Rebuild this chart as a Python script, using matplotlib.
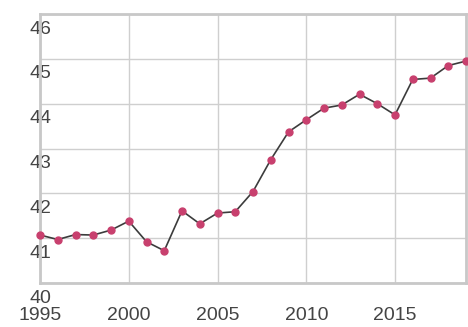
import matplotlib
matplotlib.use("Agg")
import matplotlib.pyplot as plt
import matplotlib.transforms as mtransforms

years = list(range(1995, 2020))
values = [41.07, 40.97, 41.08, 41.07, 41.18, 41.38, 40.92, 40.72, 41.61, 41.32,
          41.56, 41.59, 42.04, 42.75, 43.37, 43.64, 43.90, 43.97, 44.21, 44.00,
          43.75, 44.54, 44.57, 44.85, 44.95]
x_ticks = [1995, 2000, 2005, 2010, 2015]
y_ticks = [40, 41, 42, 43, 44, 45, 46]

plt.rcParams['font.family'] = ['Liberation Sans', 'DejaVu Sans']

W, H = 468, 327
fig = plt.figure(figsize=(W / 100, H / 100), dpi=100)
ax = fig.add_axes([40 / W, (H - 283) / H, (466 - 40) / W, (283 - 14) / H])

ax.plot(years, values, color='#3c3c3c', linewidth=1.2, zorder=3,
        marker='o', markersize=5, markerfacecolor='#c8406e',
        markeredgecolor='#c8406e', clip_on=False)

ax.set_xlim(1995, 2019)
ax.set_ylim(40, 46)
ax.set_xticks(x_ticks)
ax.set_yticks(y_ticks)
ax.grid(True, color='#cfcfcf', linewidth=1.0)
ax.set_axisbelow(True)
for s in ax.spines.values():
    s.set_color('#c8c8c8')
    s.set_linewidth(2.0)

ax.tick_params(axis='both', length=0, labelsize=14, labelcolor='#444444')
ax.tick_params(axis='x', pad=17)
ax.tick_params(axis='y', pad=0)

# y labels sit centered on the left axis and shifted below their gridline
off = mtransforms.ScaledTranslation(0, -15 / 100, fig.dpi_scale_trans)
for lab in ax.get_yticklabels():
    lab.set_horizontalalignment('center')
    lab.set_verticalalignment('center')
    lab.set_transform(lab.get_transform() + off)

fig.savefig('out.png', dpi=100)
